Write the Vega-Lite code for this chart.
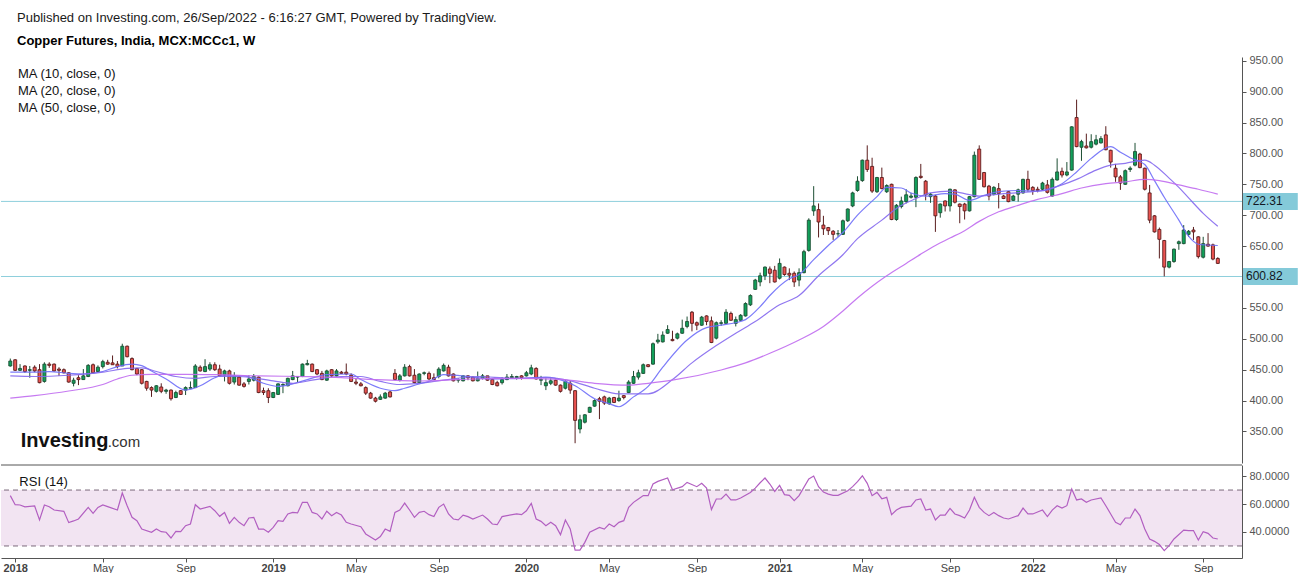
{
  "$schema": "https://vega.github.io/schema/vega-lite/v6.json",
  "background": "white",
  "padding": {"left": 0, "top": 11, "right": 0, "bottom": 0},
  "config": {
    "font": "Liberation Sans",
    "view": {"stroke": null},
    "axis": {"labelFont": "Liberation Sans", "titleFont": "Liberation Sans"},
    "axisY": {"labelOverlap": false},
    "legend": {"labelFont": "Liberation Sans"}
  },
  "title": {
    "text": "Published on Investing.com, 26/Sep/2022 - 6:16:27 GMT, Powered by TradingView.",
    "subtitle": "Copper Futures, India, MCX:MCCc1, W",
    "anchor": "start",
    "frame": "group",
    "dx": 16,
    "font": "Liberation Sans",
    "fontSize": 13,
    "fontWeight": "normal",
    "color": "#1a1a1a",
    "subtitleFont": "Liberation Sans",
    "subtitleFontSize": 13,
    "subtitleFontWeight": "bold",
    "subtitleColor": "#000000",
    "subtitlePadding": 10,
    "offset": 7
  },
  "spacing": 1,
  "resolve": {"scale": {"color": "independent"}, "legend": {"color": "independent"}},
  "datasets": {
    "one": [{}],
    "levels": [{"v": 722.31}, {"v": 600.82}],
    "candles": [
      {"d":"2017-12-25","o":456,"h":468,"l":455,"c":464},
      {"d":"2018-01-01","o":466,"h":467,"l":448,"c":449},
      {"d":"2018-01-08","o":449,"h":459,"l":448,"c":452},
      {"d":"2018-01-15","o":456,"h":457,"l":445,"c":447},
      {"d":"2018-01-22","o":449,"h":456,"l":437,"c":450},
      {"d":"2018-01-29","o":454,"h":457,"l":446,"c":448},
      {"d":"2018-02-05","o":450,"h":459,"l":428,"c":429},
      {"d":"2018-02-12","o":431,"h":462,"l":429,"c":459},
      {"d":"2018-02-19","o":459,"h":462,"l":453,"c":457},
      {"d":"2018-02-26","o":459,"h":460,"l":447,"c":448},
      {"d":"2018-03-05","o":451,"h":454,"l":440,"c":449},
      {"d":"2018-03-12","o":450,"h":452,"l":444,"c":445},
      {"d":"2018-03-19","o":445,"h":446,"l":429,"c":430},
      {"d":"2018-03-26","o":428,"h":437,"l":423,"c":433},
      {"d":"2018-04-02","o":437,"h":441,"l":425,"c":434},
      {"d":"2018-04-09","o":434,"h":451,"l":434,"c":440},
      {"d":"2018-04-16","o":439,"h":459,"l":438,"c":457},
      {"d":"2018-04-23","o":458,"h":460,"l":444,"c":445},
      {"d":"2018-04-30","o":447,"h":457,"l":446,"c":454},
      {"d":"2018-05-07","o":455,"h":466,"l":452,"c":463},
      {"d":"2018-05-14","o":462,"h":466,"l":458,"c":459},
      {"d":"2018-05-21","o":461,"h":473,"l":458,"c":458},
      {"d":"2018-05-28","o":459,"h":464,"l":452,"c":455},
      {"d":"2018-06-04","o":456,"h":492,"l":456,"c":488},
      {"d":"2018-06-11","o":488,"h":489,"l":470,"c":471},
      {"d":"2018-06-18","o":468,"h":470,"l":449,"c":450},
      {"d":"2018-06-25","o":452,"h":453,"l":441,"c":443},
      {"d":"2018-07-02","o":450,"h":451,"l":426,"c":428},
      {"d":"2018-07-09","o":431,"h":432,"l":416,"c":420},
      {"d":"2018-07-16","o":421,"h":423,"l":406,"c":417},
      {"d":"2018-07-23","o":415,"h":425,"l":413,"c":424},
      {"d":"2018-07-30","o":422,"h":428,"l":412,"c":415},
      {"d":"2018-08-06","o":415,"h":419,"l":411,"c":417},
      {"d":"2018-08-13","o":417,"h":418,"l":400,"c":403},
      {"d":"2018-08-20","o":405,"h":416,"l":404,"c":413},
      {"d":"2018-08-27","o":416,"h":417,"l":409,"c":410},
      {"d":"2018-09-03","o":417,"h":423,"l":409,"c":421},
      {"d":"2018-09-10","o":420,"h":431,"l":420,"c":421},
      {"d":"2018-09-17","o":421,"h":459,"l":421,"c":456},
      {"d":"2018-09-24","o":454,"h":457,"l":447,"c":448},
      {"d":"2018-10-01","o":447,"h":467,"l":446,"c":455},
      {"d":"2018-10-08","o":451,"h":462,"l":448,"c":458},
      {"d":"2018-10-15","o":458,"h":462,"l":448,"c":450},
      {"d":"2018-10-22","o":451,"h":458,"l":439,"c":440},
      {"d":"2018-10-29","o":441,"h":450,"l":431,"c":448},
      {"d":"2018-11-05","o":448,"h":450,"l":426,"c":428},
      {"d":"2018-11-12","o":430,"h":446,"l":426,"c":440},
      {"d":"2018-11-19","o":438,"h":441,"l":424,"c":425},
      {"d":"2018-11-26","o":427,"h":430,"l":421,"c":423},
      {"d":"2018-12-03","o":431,"h":441,"l":426,"c":435},
      {"d":"2018-12-10","o":433,"h":443,"l":431,"c":439},
      {"d":"2018-12-17","o":438,"h":439,"l":412,"c":413},
      {"d":"2018-12-24","o":416,"h":421,"l":409,"c":413},
      {"d":"2018-12-31","o":416,"h":420,"l":396,"c":405},
      {"d":"2019-01-07","o":405,"h":414,"l":404,"c":413},
      {"d":"2019-01-14","o":410,"h":428,"l":409,"c":427},
      {"d":"2019-01-21","o":425,"h":428,"l":412,"c":426},
      {"d":"2019-01-28","o":424,"h":437,"l":423,"c":436},
      {"d":"2019-02-04","o":434,"h":448,"l":433,"c":440},
      {"d":"2019-02-11","o":438,"h":439,"l":430,"c":439},
      {"d":"2019-02-18","o":439,"h":460,"l":438,"c":459},
      {"d":"2019-02-25","o":458,"h":466,"l":457,"c":460},
      {"d":"2019-03-04","o":459,"h":460,"l":446,"c":447},
      {"d":"2019-03-11","o":450,"h":451,"l":441,"c":443},
      {"d":"2019-03-18","o":444,"h":448,"l":433,"c":434},
      {"d":"2019-03-25","o":433,"h":450,"l":432,"c":448},
      {"d":"2019-04-01","o":450,"h":451,"l":438,"c":440},
      {"d":"2019-04-08","o":440,"h":451,"l":439,"c":448},
      {"d":"2019-04-15","o":446,"h":448,"l":443,"c":444},
      {"d":"2019-04-22","o":446,"h":460,"l":441,"c":443},
      {"d":"2019-04-29","o":441,"h":444,"l":430,"c":431},
      {"d":"2019-05-06","o":430,"h":436,"l":425,"c":428},
      {"d":"2019-05-13","o":427,"h":430,"l":423,"c":424},
      {"d":"2019-05-20","o":421,"h":423,"l":409,"c":412},
      {"d":"2019-05-27","o":412,"h":414,"l":403,"c":404},
      {"d":"2019-06-03","o":404,"h":406,"l":397,"c":399},
      {"d":"2019-06-10","o":402,"h":410,"l":401,"c":406},
      {"d":"2019-06-17","o":404,"h":414,"l":403,"c":412},
      {"d":"2019-06-24","o":414,"h":416,"l":405,"c":406},
      {"d":"2019-07-01","o":444,"h":451,"l":433,"c":434},
      {"d":"2019-07-08","o":433,"h":443,"l":431,"c":440},
      {"d":"2019-07-15","o":440,"h":459,"l":439,"c":454},
      {"d":"2019-07-22","o":455,"h":458,"l":439,"c":440},
      {"d":"2019-07-29","o":441,"h":451,"l":428,"c":429},
      {"d":"2019-08-05","o":429,"h":444,"l":428,"c":443},
      {"d":"2019-08-12","o":444,"h":447,"l":441,"c":445},
      {"d":"2019-08-19","o":444,"h":447,"l":433,"c":435},
      {"d":"2019-08-26","o":437,"h":444,"l":433,"c":434},
      {"d":"2019-09-02","o":439,"h":454,"l":436,"c":451},
      {"d":"2019-09-09","o":448,"h":460,"l":447,"c":457},
      {"d":"2019-09-16","o":454,"h":458,"l":439,"c":440},
      {"d":"2019-09-23","o":443,"h":444,"l":431,"c":432},
      {"d":"2019-09-30","o":433,"h":436,"l":429,"c":434},
      {"d":"2019-10-07","o":432,"h":441,"l":431,"c":440},
      {"d":"2019-10-14","o":440,"h":441,"l":433,"c":437},
      {"d":"2019-10-21","o":438,"h":439,"l":431,"c":432},
      {"d":"2019-10-28","o":432,"h":447,"l":431,"c":436},
      {"d":"2019-11-04","o":436,"h":443,"l":434,"c":440},
      {"d":"2019-11-11","o":440,"h":440,"l":432,"c":433},
      {"d":"2019-11-18","o":434,"h":436,"l":425,"c":426},
      {"d":"2019-11-25","o":429,"h":432,"l":423,"c":424},
      {"d":"2019-12-02","o":429,"h":438,"l":426,"c":434},
      {"d":"2019-12-09","o":434,"h":443,"l":433,"c":438},
      {"d":"2019-12-16","o":437,"h":443,"l":436,"c":439},
      {"d":"2019-12-23","o":437,"h":440,"l":434,"c":439},
      {"d":"2019-12-30","o":440,"h":441,"l":434,"c":437},
      {"d":"2020-01-06","o":440,"h":448,"l":439,"c":445},
      {"d":"2020-01-13","o":443,"h":458,"l":441,"c":453},
      {"d":"2020-01-20","o":452,"h":454,"l":434,"c":435},
      {"d":"2020-01-27","o":433,"h":440,"l":425,"c":434},
      {"d":"2020-02-03","o":424,"h":436,"l":417,"c":429},
      {"d":"2020-02-10","o":428,"h":436,"l":425,"c":432},
      {"d":"2020-02-17","o":433,"h":434,"l":424,"c":425},
      {"d":"2020-02-24","o":425,"h":426,"l":413,"c":415},
      {"d":"2020-03-02","o":420,"h":433,"l":418,"c":431},
      {"d":"2020-03-09","o":428,"h":432,"l":411,"c":417},
      {"d":"2020-03-16","o":416,"h":417,"l":331,"c":368},
      {"d":"2020-03-23","o":354,"h":377,"l":347,"c":369},
      {"d":"2020-03-30","o":365,"h":378,"l":363,"c":377},
      {"d":"2020-04-06","o":381,"h":390,"l":380,"c":389},
      {"d":"2020-04-13","o":391,"h":402,"l":390,"c":400},
      {"d":"2020-04-20","o":403,"h":406,"l":370,"c":399},
      {"d":"2020-04-27","o":406,"h":408,"l":393,"c":396},
      {"d":"2020-05-04","o":395,"h":406,"l":393,"c":404},
      {"d":"2020-05-11","o":405,"h":406,"l":396,"c":397},
      {"d":"2020-05-18","o":400,"h":416,"l":398,"c":404},
      {"d":"2020-05-25","o":408,"h":409,"l":402,"c":405},
      {"d":"2020-06-01","o":413,"h":433,"l":412,"c":430},
      {"d":"2020-06-08","o":428,"h":448,"l":427,"c":439},
      {"d":"2020-06-15","o":438,"h":450,"l":434,"c":445},
      {"d":"2020-06-22","o":444,"h":460,"l":443,"c":458},
      {"d":"2020-06-29","o":458,"h":459,"l":454,"c":455},
      {"d":"2020-07-06","o":459,"h":494,"l":458,"c":492},
      {"d":"2020-07-13","o":495,"h":508,"l":492,"c":498},
      {"d":"2020-07-20","o":495,"h":512,"l":494,"c":506},
      {"d":"2020-07-27","o":509,"h":522,"l":508,"c":515},
      {"d":"2020-08-03","o":499,"h":513,"l":496,"c":497},
      {"d":"2020-08-10","o":501,"h":510,"l":499,"c":508},
      {"d":"2020-08-17","o":509,"h":531,"l":508,"c":517},
      {"d":"2020-08-24","o":520,"h":536,"l":517,"c":528},
      {"d":"2020-08-31","o":543,"h":545,"l":512,"c":525},
      {"d":"2020-09-07","o":526,"h":528,"l":514,"c":522},
      {"d":"2020-09-14","o":522,"h":537,"l":521,"c":535},
      {"d":"2020-09-21","o":537,"h":538,"l":522,"c":528},
      {"d":"2020-09-28","o":529,"h":536,"l":493,"c":494},
      {"d":"2020-10-05","o":501,"h":528,"l":499,"c":526},
      {"d":"2020-10-12","o":525,"h":530,"l":521,"c":526},
      {"d":"2020-10-19","o":525,"h":548,"l":524,"c":543},
      {"d":"2020-10-26","o":541,"h":544,"l":529,"c":530},
      {"d":"2020-11-02","o":525,"h":536,"l":520,"c":531},
      {"d":"2020-11-09","o":530,"h":540,"l":529,"c":538},
      {"d":"2020-11-16","o":537,"h":559,"l":536,"c":557},
      {"d":"2020-11-23","o":555,"h":572,"l":553,"c":570},
      {"d":"2020-11-30","o":580,"h":597,"l":579,"c":595},
      {"d":"2020-12-07","o":592,"h":607,"l":585,"c":602},
      {"d":"2020-12-14","o":602,"h":617,"l":595,"c":616},
      {"d":"2020-12-21","o":613,"h":617,"l":590,"c":606},
      {"d":"2020-12-28","o":611,"h":618,"l":591,"c":592},
      {"d":"2021-01-04","o":598,"h":630,"l":596,"c":622},
      {"d":"2021-01-11","o":616,"h":617,"l":602,"c":604},
      {"d":"2021-01-18","o":606,"h":614,"l":595,"c":603},
      {"d":"2021-01-25","o":606,"h":609,"l":584,"c":592},
      {"d":"2021-02-01","o":595,"h":614,"l":585,"c":607},
      {"d":"2021-02-08","o":607,"h":644,"l":606,"c":641},
      {"d":"2021-02-15","o":643,"h":695,"l":641,"c":692},
      {"d":"2021-02-22","o":707,"h":747,"l":699,"c":715},
      {"d":"2021-03-01","o":709,"h":719,"l":664,"c":689},
      {"d":"2021-03-08","o":684,"h":699,"l":668,"c":678},
      {"d":"2021-03-15","o":680,"h":681,"l":668,"c":675},
      {"d":"2021-03-22","o":674,"h":676,"l":660,"c":669},
      {"d":"2021-03-29","o":670,"h":676,"l":665,"c":670},
      {"d":"2021-04-05","o":669,"h":693,"l":668,"c":691},
      {"d":"2021-04-12","o":691,"h":711,"l":689,"c":710},
      {"d":"2021-04-19","o":715,"h":738,"l":713,"c":736},
      {"d":"2021-04-26","o":740,"h":763,"l":738,"c":755},
      {"d":"2021-05-03","o":756,"h":790,"l":754,"c":789},
      {"d":"2021-05-10","o":789,"h":813,"l":770,"c":774},
      {"d":"2021-05-17","o":779,"h":793,"l":736,"c":739},
      {"d":"2021-05-24","o":738,"h":762,"l":736,"c":761},
      {"d":"2021-05-31","o":761,"h":777,"l":742,"c":743},
      {"d":"2021-06-07","o":738,"h":750,"l":736,"c":748},
      {"d":"2021-06-14","o":750,"h":751,"l":692,"c":693},
      {"d":"2021-06-21","o":693,"h":718,"l":691,"c":716},
      {"d":"2021-06-28","o":714,"h":730,"l":711,"c":723},
      {"d":"2021-07-05","o":722,"h":742,"l":719,"c":733},
      {"d":"2021-07-12","o":729,"h":736,"l":727,"c":731},
      {"d":"2021-07-19","o":729,"h":763,"l":713,"c":761},
      {"d":"2021-07-26","o":763,"h":783,"l":759,"c":761},
      {"d":"2021-08-02","o":755,"h":757,"l":724,"c":733},
      {"d":"2021-08-09","o":730,"h":736,"l":720,"c":734},
      {"d":"2021-08-16","o":731,"h":733,"l":673,"c":699},
      {"d":"2021-08-23","o":704,"h":719,"l":696,"c":718},
      {"d":"2021-08-30","o":723,"h":724,"l":706,"c":715},
      {"d":"2021-09-06","o":715,"h":743,"l":706,"c":742},
      {"d":"2021-09-13","o":741,"h":742,"l":719,"c":721},
      {"d":"2021-09-20","o":718,"h":719,"l":687,"c":714},
      {"d":"2021-09-27","o":718,"h":720,"l":693,"c":707},
      {"d":"2021-10-04","o":707,"h":731,"l":706,"c":730},
      {"d":"2021-10-11","o":730,"h":803,"l":729,"c":797},
      {"d":"2021-10-18","o":807,"h":813,"l":757,"c":758},
      {"d":"2021-10-25","o":769,"h":770,"l":745,"c":746},
      {"d":"2021-11-01","o":747,"h":749,"l":724,"c":731},
      {"d":"2021-11-08","o":734,"h":747,"l":732,"c":745},
      {"d":"2021-11-15","o":743,"h":752,"l":711,"c":735},
      {"d":"2021-11-22","o":731,"h":733,"l":726,"c":727},
      {"d":"2021-11-29","o":738,"h":739,"l":721,"c":722},
      {"d":"2021-12-06","o":724,"h":733,"l":723,"c":731},
      {"d":"2021-12-13","o":734,"h":743,"l":722,"c":741},
      {"d":"2021-12-20","o":736,"h":759,"l":735,"c":758},
      {"d":"2021-12-27","o":758,"h":772,"l":738,"c":742},
      {"d":"2022-01-03","o":745,"h":747,"l":733,"c":740},
      {"d":"2022-01-10","o":742,"h":746,"l":737,"c":740},
      {"d":"2022-01-17","o":742,"h":754,"l":740,"c":752},
      {"d":"2022-01-24","o":749,"h":757,"l":735,"c":737},
      {"d":"2022-01-31","o":731,"h":761,"l":730,"c":758},
      {"d":"2022-02-07","o":757,"h":792,"l":756,"c":770},
      {"d":"2022-02-14","o":771,"h":777,"l":761,"c":765},
      {"d":"2022-02-21","o":765,"h":786,"l":763,"c":770},
      {"d":"2022-02-28","o":773,"h":844,"l":772,"c":843},
      {"d":"2022-03-07","o":858,"h":887,"l":810,"c":811},
      {"d":"2022-03-14","o":810,"h":822,"l":788,"c":819},
      {"d":"2022-03-21","o":812,"h":832,"l":808,"c":809},
      {"d":"2022-03-28","o":810,"h":831,"l":808,"c":819},
      {"d":"2022-04-04","o":815,"h":830,"l":813,"c":822},
      {"d":"2022-04-11","o":817,"h":828,"l":816,"c":824},
      {"d":"2022-04-18","o":830,"h":844,"l":805,"c":806},
      {"d":"2022-04-25","o":805,"h":806,"l":777,"c":786},
      {"d":"2022-05-02","o":776,"h":783,"l":754,"c":762},
      {"d":"2022-05-09","o":762,"h":765,"l":741,"c":752},
      {"d":"2022-05-16","o":750,"h":774,"l":749,"c":772},
      {"d":"2022-05-23","o":774,"h":779,"l":770,"c":776},
      {"d":"2022-05-30","o":781,"h":817,"l":779,"c":803},
      {"d":"2022-06-06","o":799,"h":801,"l":776,"c":777},
      {"d":"2022-06-13","o":776,"h":777,"l":740,"c":742},
      {"d":"2022-06-20","o":736,"h":749,"l":687,"c":692},
      {"d":"2022-06-27","o":699,"h":700,"l":672,"c":673},
      {"d":"2022-07-04","o":677,"h":680,"l":630,"c":661},
      {"d":"2022-07-11","o":659,"h":660,"l":601,"c":616},
      {"d":"2022-07-18","o":616,"h":626,"l":614,"c":625},
      {"d":"2022-07-25","o":625,"h":646,"l":623,"c":645},
      {"d":"2022-08-01","o":654,"h":659,"l":644,"c":657},
      {"d":"2022-08-08","o":654,"h":684,"l":653,"c":676},
      {"d":"2022-08-15","o":669,"h":676,"l":665,"c":674},
      {"d":"2022-08-22","o":676,"h":681,"l":660,"c":673},
      {"d":"2022-08-29","o":665,"h":666,"l":630,"c":633},
      {"d":"2022-09-05","o":632,"h":665,"l":630,"c":654},
      {"d":"2022-09-12","o":653,"h":671,"l":649,"c":650},
      {"d":"2022-09-19","o":652,"h":654,"l":627,"c":629},
      {"d":"2022-09-26","o":630,"h":632,"l":621,"c":622}
    ],
    "ma": [
      {"d":"2017-12-25","s":"10","v":446},{"d":"2018-01-29","s":"10","v":446},{"d":"2018-02-19","s":"10","v":447},
      {"d":"2018-03-19","s":"10","v":444},{"d":"2018-04-09","s":"10","v":443},{"d":"2018-05-07","s":"10","v":447},
      {"d":"2018-05-28","s":"10","v":455},{"d":"2018-06-18","s":"10","v":459},{"d":"2018-07-02","s":"10","v":456.5},
      {"d":"2018-07-16","s":"10","v":448},{"d":"2018-08-06","s":"10","v":435},{"d":"2018-09-03","s":"10","v":417},
      {"d":"2018-09-24","s":"10","v":424},{"d":"2018-10-15","s":"10","v":437},{"d":"2018-10-29","s":"10","v":441},
      {"d":"2018-11-26","s":"10","v":440},{"d":"2018-12-24","s":"10","v":428},{"d":"2019-01-14","s":"10","v":423},
      {"d":"2019-02-04","s":"10","v":427},{"d":"2019-02-25","s":"10","v":434},{"d":"2019-03-25","s":"10","v":442},
      {"d":"2019-04-29","s":"10","v":443},{"d":"2019-05-13","s":"10","v":434},{"d":"2019-06-10","s":"10","v":420},
      {"d":"2019-07-01","s":"10","v":416},{"d":"2019-07-15","s":"10","v":420},{"d":"2019-08-05","s":"10","v":427},
      {"d":"2019-08-19","s":"10","v":431},{"d":"2019-09-09","s":"10","v":442},{"d":"2019-10-21","s":"10","v":438},
      {"d":"2019-11-18","s":"10","v":435},{"d":"2019-12-30","s":"10","v":436},{"d":"2020-02-03","s":"10","v":438},
      {"d":"2020-03-02","s":"10","v":431},{"d":"2020-03-16","s":"10","v":424},{"d":"2020-04-13","s":"10","v":403},
      {"d":"2020-05-04","s":"10","v":395},{"d":"2020-05-18","s":"10","v":390},{"d":"2020-06-08","s":"10","v":406},
      {"d":"2020-06-29","s":"10","v":423},{"d":"2020-07-20","s":"10","v":454},{"d":"2020-08-24","s":"10","v":498},
      {"d":"2020-09-21","s":"10","v":518},{"d":"2020-10-12","s":"10","v":522},{"d":"2020-11-02","s":"10","v":526},
      {"d":"2020-11-16","s":"10","v":531},{"d":"2020-12-07","s":"10","v":552},{"d":"2020-12-21","s":"10","v":570},
      {"d":"2021-01-18","s":"10","v":597},{"d":"2021-02-01","s":"10","v":604},{"d":"2021-02-22","s":"10","v":628},
      {"d":"2021-03-15","s":"10","v":651},{"d":"2021-04-05","s":"10","v":672},{"d":"2021-04-26","s":"10","v":700},
      {"d":"2021-05-24","s":"10","v":730},{"d":"2021-06-07","s":"10","v":745},{"d":"2021-06-28","s":"10","v":744},
      {"d":"2021-07-12","s":"10","v":736},{"d":"2021-08-02","s":"10","v":731},{"d":"2021-08-30","s":"10","v":735},
      {"d":"2021-09-13","s":"10","v":734},{"d":"2021-10-04","s":"10","v":724},{"d":"2021-10-25","s":"10","v":732},
      {"d":"2021-11-15","s":"10","v":738},{"d":"2021-12-13","s":"10","v":740},{"d":"2022-01-10","s":"10","v":739},
      {"d":"2022-02-14","s":"10","v":751},{"d":"2022-03-07","s":"10","v":770},{"d":"2022-03-28","s":"10","v":792},
      {"d":"2022-04-25","s":"10","v":811},{"d":"2022-05-09","s":"10","v":802},{"d":"2022-05-23","s":"10","v":793},
      {"d":"2022-06-13","s":"10","v":782},{"d":"2022-06-27","s":"10","v":756},{"d":"2022-07-11","s":"10","v":729},
      {"d":"2022-08-01","s":"10","v":692},{"d":"2022-08-15","s":"10","v":666},{"d":"2022-08-29","s":"10","v":653},
      {"d":"2022-09-26","s":"10","v":651},
      {"d":"2017-12-25","s":"20","v":440},{"d":"2018-01-29","s":"20","v":439},{"d":"2018-03-19","s":"20","v":441},
      {"d":"2018-05-07","s":"20","v":446},{"d":"2018-06-11","s":"20","v":452},{"d":"2018-07-02","s":"20","v":453},
      {"d":"2018-07-23","s":"20","v":447},{"d":"2018-08-20","s":"20","v":439},{"d":"2018-09-17","s":"20","v":436},
      {"d":"2018-10-15","s":"20","v":439},{"d":"2018-11-19","s":"20","v":439},{"d":"2019-01-07","s":"20","v":432},
      {"d":"2019-02-04","s":"20","v":428},{"d":"2019-03-04","s":"20","v":433},{"d":"2019-04-15","s":"20","v":439},
      {"d":"2019-05-13","s":"20","v":439},{"d":"2019-06-10","s":"20","v":431},{"d":"2019-07-08","s":"20","v":426},
      {"d":"2019-08-05","s":"20","v":428},{"d":"2019-09-09","s":"20","v":433},{"d":"2019-10-28","s":"20","v":439},
      {"d":"2019-12-16","s":"20","v":436},{"d":"2020-02-03","s":"20","v":437},{"d":"2020-03-09","s":"20","v":432},
      {"d":"2020-04-13","s":"20","v":420},{"d":"2020-05-18","s":"20","v":411},{"d":"2020-06-29","s":"20","v":411},
      {"d":"2020-08-03","s":"20","v":434},{"d":"2020-08-31","s":"20","v":461},{"d":"2020-10-05","s":"20","v":489},
      {"d":"2020-11-02","s":"20","v":509},{"d":"2020-11-30","s":"20","v":528},{"d":"2021-01-04","s":"20","v":555},
      {"d":"2021-02-01","s":"20","v":570},{"d":"2021-03-01","s":"20","v":602},{"d":"2021-04-05","s":"20","v":636},
      {"d":"2021-04-26","s":"20","v":662},{"d":"2021-05-31","s":"20","v":692},{"d":"2021-06-21","s":"20","v":711},
      {"d":"2021-07-19","s":"20","v":727},{"d":"2021-08-09","s":"20","v":736},{"d":"2021-09-06","s":"20","v":739},
      {"d":"2021-09-27","s":"20","v":735},{"d":"2021-10-18","s":"20","v":731},{"d":"2021-11-22","s":"20","v":735},
      {"d":"2022-01-03","s":"20","v":738},{"d":"2022-01-17","s":"20","v":740},{"d":"2022-02-14","s":"20","v":749},
      {"d":"2022-03-07","s":"20","v":758},{"d":"2022-04-04","s":"20","v":773},{"d":"2022-04-25","s":"20","v":781},
      {"d":"2022-05-16","s":"20","v":784},{"d":"2022-06-13","s":"20","v":789},{"d":"2022-06-27","s":"20","v":781},
      {"d":"2022-07-18","s":"20","v":760},{"d":"2022-08-01","s":"20","v":745},{"d":"2022-08-15","s":"20","v":728},
      {"d":"2022-09-05","s":"20","v":703},{"d":"2022-09-26","s":"20","v":682},
      {"d":"2017-12-25","s":"50","v":404},{"d":"2018-01-29","s":"50","v":408},{"d":"2018-03-19","s":"50","v":415.5},
      {"d":"2018-05-07","s":"50","v":426},{"d":"2018-05-28","s":"50","v":435},{"d":"2018-06-18","s":"50","v":441},
      {"d":"2018-07-16","s":"50","v":442.5},{"d":"2018-09-03","s":"50","v":442.5},{"d":"2018-10-15","s":"50","v":442},
      {"d":"2018-12-17","s":"50","v":440},{"d":"2019-02-25","s":"50","v":438.7},{"d":"2019-04-15","s":"50","v":437},
      {"d":"2019-05-27","s":"50","v":434.4},{"d":"2019-08-05","s":"50","v":431.7},{"d":"2019-10-07","s":"50","v":434.4},
      {"d":"2019-12-16","s":"50","v":436},{"d":"2020-02-24","s":"50","v":434.4},{"d":"2020-04-13","s":"50","v":428},
      {"d":"2020-06-01","s":"50","v":425},{"d":"2020-06-29","s":"50","v":428},{"d":"2020-08-03","s":"50","v":433},
      {"d":"2020-10-12","s":"50","v":449.5},{"d":"2020-11-16","s":"50","v":461},{"d":"2020-12-21","s":"50","v":476.5},
      {"d":"2021-02-01","s":"50","v":498},{"d":"2021-03-08","s":"50","v":520},{"d":"2021-04-05","s":"50","v":545},
      {"d":"2021-04-26","s":"50","v":566},{"d":"2021-05-17","s":"50","v":585},{"d":"2021-06-07","s":"50","v":602},
      {"d":"2021-07-05","s":"50","v":622},{"d":"2021-07-26","s":"50","v":637},{"d":"2021-08-16","s":"50","v":651},
      {"d":"2021-09-06","s":"50","v":663},{"d":"2021-09-27","s":"50","v":675},{"d":"2021-10-18","s":"50","v":690},
      {"d":"2021-11-15","s":"50","v":705.5},{"d":"2021-12-13","s":"50","v":716},{"d":"2022-01-10","s":"50","v":725.5},
      {"d":"2022-01-31","s":"50","v":731},{"d":"2022-02-14","s":"50","v":735},{"d":"2022-03-14","s":"50","v":744},
      {"d":"2022-04-18","s":"50","v":751},{"d":"2022-05-16","s":"50","v":754},{"d":"2022-06-13","s":"50","v":758},
      {"d":"2022-07-04","s":"50","v":756},{"d":"2022-08-01","s":"50","v":749},{"d":"2022-08-29","s":"50","v":742},
      {"d":"2022-09-26","s":"50","v":734}
    ],
    "rsi": [
      {"d":"2017-12-25","v":66},{"d":"2018-01-01","v":59.5},{"d":"2018-01-08","v":59.3},{"d":"2018-01-15","v":58},
      {"d":"2018-01-29","v":58.6},{"d":"2018-02-05","v":48.6},{"d":"2018-02-12","v":59.3},{"d":"2018-02-19","v":58.1},
      {"d":"2018-02-26","v":55.7},{"d":"2018-03-12","v":54.8},{"d":"2018-03-19","v":46.7},{"d":"2018-03-26","v":47.9},
      {"d":"2018-04-02","v":49.3},{"d":"2018-04-16","v":57.6},{"d":"2018-04-23","v":53.3},{"d":"2018-04-30","v":57.6},
      {"d":"2018-05-07","v":59.3},{"d":"2018-05-14","v":58.1},{"d":"2018-05-28","v":55.7},{"d":"2018-06-04","v":67.9},
      {"d":"2018-06-11","v":58.8},{"d":"2018-06-18","v":50.5},{"d":"2018-06-25","v":48.1},{"d":"2018-07-02","v":42.1},
      {"d":"2018-07-16","v":39.8},{"d":"2018-07-23","v":42.1},{"d":"2018-07-30","v":40.2},{"d":"2018-08-06","v":39.8},
      {"d":"2018-08-13","v":35.7},{"d":"2018-08-20","v":40.5},{"d":"2018-08-27","v":40.2},{"d":"2018-09-03","v":44.5},
      {"d":"2018-09-10","v":45.7},{"d":"2018-09-17","v":59.5},{"d":"2018-09-24","v":56.4},{"d":"2018-10-08","v":58.3},
      {"d":"2018-10-15","v":55.2},{"d":"2018-10-22","v":51.2},{"d":"2018-10-29","v":54},{"d":"2018-11-05","v":46.2},
      {"d":"2018-11-12","v":50.5},{"d":"2018-11-19","v":46.9},{"d":"2018-11-26","v":44.5},{"d":"2018-12-03","v":50},
      {"d":"2018-12-10","v":50.5},{"d":"2018-12-17","v":42.1},{"d":"2018-12-24","v":42.1},{"d":"2018-12-31","v":39.8},
      {"d":"2019-01-07","v":43.3},{"d":"2019-01-14","v":48.1},{"d":"2019-01-21","v":47.6},{"d":"2019-01-28","v":52.9},
      {"d":"2019-02-04","v":54},{"d":"2019-02-11","v":53.6},{"d":"2019-02-18","v":61.2},{"d":"2019-02-25","v":61.2},
      {"d":"2019-03-04","v":54},{"d":"2019-03-11","v":52.9},{"d":"2019-03-18","v":49.3},{"d":"2019-03-25","v":54.8},
      {"d":"2019-04-01","v":51.7},{"d":"2019-04-08","v":54},{"d":"2019-04-15","v":52.1},{"d":"2019-04-22","v":46.9},
      {"d":"2019-04-29","v":45.7},{"d":"2019-05-13","v":43.8},{"d":"2019-05-20","v":38.6},{"d":"2019-06-03","v":34.3},
      {"d":"2019-06-10","v":36.7},{"d":"2019-06-17","v":42.1},{"d":"2019-06-24","v":40.5},{"d":"2019-07-01","v":54},
      {"d":"2019-07-08","v":55.7},{"d":"2019-07-15","v":60.7},{"d":"2019-07-22","v":55.7},{"d":"2019-07-29","v":50.5},
      {"d":"2019-08-05","v":54},{"d":"2019-08-12","v":54.8},{"d":"2019-08-19","v":52.4},{"d":"2019-08-26","v":51},
      {"d":"2019-09-02","v":57.6},{"d":"2019-09-09","v":60},{"d":"2019-09-16","v":52.9},{"d":"2019-09-23","v":49.3},
      {"d":"2019-09-30","v":48.6},{"d":"2019-10-07","v":52.1},{"d":"2019-10-14","v":51},{"d":"2019-10-21","v":49.3},
      {"d":"2019-11-04","v":52.1},{"d":"2019-11-11","v":49.3},{"d":"2019-11-18","v":45.7},{"d":"2019-11-25","v":45.2},
      {"d":"2019-12-02","v":51},{"d":"2019-12-09","v":51.7},{"d":"2019-12-23","v":52.9},{"d":"2019-12-30","v":52.4},
      {"d":"2020-01-06","v":55.2},{"d":"2020-01-13","v":60.5},{"d":"2020-01-20","v":49.3},{"d":"2020-01-27","v":47.6},
      {"d":"2020-02-03","v":44.5},{"d":"2020-02-10","v":46.9},{"d":"2020-02-17","v":44.5},{"d":"2020-02-24","v":38.1},
      {"d":"2020-03-02","v":48.6},{"d":"2020-03-09","v":42.1},{"d":"2020-03-16","v":27.1},{"d":"2020-03-23","v":27.1},
      {"d":"2020-03-30","v":32.6},{"d":"2020-04-06","v":39.8},{"d":"2020-04-20","v":43.3},{"d":"2020-04-27","v":42.1},
      {"d":"2020-05-04","v":45.7},{"d":"2020-05-11","v":43.8},{"d":"2020-05-18","v":46.9},{"d":"2020-05-25","v":48.1},
      {"d":"2020-06-01","v":57.6},{"d":"2020-06-08","v":61.2},{"d":"2020-06-15","v":63.6},{"d":"2020-06-22","v":66},
      {"d":"2020-06-29","v":66},{"d":"2020-07-06","v":74.3},{"d":"2020-07-13","v":76.2},{"d":"2020-07-27","v":78.6},
      {"d":"2020-08-03","v":70.2},{"d":"2020-08-17","v":72.4},{"d":"2020-08-24","v":75.5},{"d":"2020-09-07","v":72.4},
      {"d":"2020-09-14","v":74.8},{"d":"2020-09-21","v":71.4},{"d":"2020-09-28","v":56},{"d":"2020-10-05","v":63.6},
      {"d":"2020-10-12","v":63.6},{"d":"2020-10-19","v":67.1},{"d":"2020-10-26","v":62.9},{"d":"2020-11-02","v":62.9},
      {"d":"2020-11-09","v":64.3},{"d":"2020-11-23","v":68.3},{"d":"2020-11-30","v":71.4},{"d":"2020-12-07","v":75.2},
      {"d":"2020-12-14","v":78.6},{"d":"2020-12-21","v":74.3},{"d":"2020-12-28","v":69},{"d":"2021-01-04","v":73.3},
      {"d":"2021-01-11","v":66.7},{"d":"2021-01-18","v":66.2},{"d":"2021-01-25","v":62.4},{"d":"2021-02-01","v":66},
      {"d":"2021-02-15","v":77.9},{"d":"2021-02-22","v":80},{"d":"2021-03-01","v":72.4},{"d":"2021-03-08","v":68.6},
      {"d":"2021-03-15","v":67.1},{"d":"2021-03-22","v":66.2},{"d":"2021-03-29","v":66.2},{"d":"2021-04-12","v":69.5},
      {"d":"2021-04-19","v":72.4},{"d":"2021-04-26","v":76},{"d":"2021-05-03","v":80.2},{"d":"2021-05-10","v":74.8},
      {"d":"2021-05-17","v":66},{"d":"2021-05-24","v":68.3},{"d":"2021-05-31","v":63.8},{"d":"2021-06-07","v":64.8},
      {"d":"2021-06-14","v":52.4},{"d":"2021-06-21","v":55.7},{"d":"2021-06-28","v":57.6},{"d":"2021-07-12","v":58.5},
      {"d":"2021-07-19","v":62.9},{"d":"2021-07-26","v":63.6},{"d":"2021-08-02","v":55.7},{"d":"2021-08-09","v":56.4},
      {"d":"2021-08-16","v":48.6},{"d":"2021-08-23","v":52.1},{"d":"2021-08-30","v":52.1},{"d":"2021-09-06","v":56.9},
      {"d":"2021-09-13","v":52.9},{"d":"2021-09-20","v":51.7},{"d":"2021-09-27","v":50},{"d":"2021-10-04","v":55.7},
      {"d":"2021-10-11","v":64.8},{"d":"2021-10-18","v":57.6},{"d":"2021-10-25","v":54},{"d":"2021-11-01","v":51.7},
      {"d":"2021-11-08","v":54},{"d":"2021-11-15","v":51.7},{"d":"2021-11-22","v":50},{"d":"2021-11-29","v":49.3},
      {"d":"2021-12-13","v":51.7},{"d":"2021-12-20","v":57.1},{"d":"2021-12-27","v":52.9},{"d":"2022-01-03","v":52.9},
      {"d":"2022-01-17","v":55.7},{"d":"2022-01-24","v":51},{"d":"2022-01-31","v":55.7},{"d":"2022-02-07","v":58.8},
      {"d":"2022-02-14","v":57.1},{"d":"2022-02-21","v":58.8},{"d":"2022-02-28","v":70.7},{"d":"2022-03-07","v":62.9},
      {"d":"2022-03-14","v":63.6},{"d":"2022-03-21","v":61.2},{"d":"2022-03-28","v":62.9},{"d":"2022-04-11","v":64.3},
      {"d":"2022-04-18","v":58.8},{"d":"2022-04-25","v":52.9},{"d":"2022-05-02","v":46.9},{"d":"2022-05-09","v":45.2},
      {"d":"2022-05-16","v":50},{"d":"2022-05-23","v":50},{"d":"2022-05-30","v":56.4},{"d":"2022-06-06","v":51.7},
      {"d":"2022-06-13","v":42.1},{"d":"2022-06-20","v":35},{"d":"2022-06-27","v":33.3},{"d":"2022-07-04","v":31},
      {"d":"2022-07-11","v":26.7},{"d":"2022-07-18","v":30.2},{"d":"2022-07-25","v":35},{"d":"2022-08-08","v":41.4},
      {"d":"2022-08-15","v":41},{"d":"2022-08-22","v":41},{"d":"2022-08-29","v":34.3},{"d":"2022-09-05","v":40.2},
      {"d":"2022-09-12","v":39},{"d":"2022-09-19","v":35.7},{"d":"2022-09-26","v":35}
    ]
  },
  "vconcat": [
    {
      "width": 1241,
      "height": 406,
      "layer": [
        {
          "data": {"name": "levels"},
          "mark": {"type": "rule", "color": "#8ecfdc", "strokeWidth": 1},
          "encoding": {
            "y": {
              "field": "v",
              "type": "quantitative",
              "scale": {"domain": [299, 956], "nice": false, "zero": false, "padding": 0},
              "axis": {
                "orient": "right",
                "values": [350, 400, 450, 500, 550, 650, 700, 750, 800, 850, 900, 950],
                "tickCount": 20,
                "format": ".2f",
                "title": null,
                "grid": false,
                "labelOverlap": false,
                "labelColor": "#555555",
                "labelFontSize": 11,
                "domainColor": "#555555",
                "tickColor": "#555555",
                "tickSize": 4,
                "labelPadding": 3
              }
            }
          }
        },
        {
          "data": {"name": "candles"},
          "mark": {"type": "rule", "strokeWidth": 1},
          "encoding": {
            "x": {
              "field": "d",
              "type": "temporal",
              "scale": {"type": "utc", "domain": [1513004400000, 1667156400000], "padding": 0},
              "axis": null
            },
            "y": {
              "field": "l",
              "type": "quantitative",
              "axis": {
                "orient": "right",
                "values": [350, 400, 450, 500, 550, 650, 700, 750, 800, 850, 900, 950],
                "tickCount": 20,
                "format": ".2f",
                "title": null,
                "grid": false,
                "labelOverlap": false
              }
            },
            "y2": {"field": "h"},
            "color": {"condition": {"test": "datum.c >= datum.o", "value": "#1d4f34"}, "value": "#5a1d1d"}
          }
        },
        {
          "data": {"name": "candles"},
          "mark": {"type": "bar", "width": 3, "strokeWidth": 0.9},
          "encoding": {
            "x": {"field": "d", "type": "temporal"},
            "y": {"field": "o", "type": "quantitative"},
            "y2": {"field": "c"},
            "fill": {"condition": {"test": "datum.c >= datum.o", "value": "#11a05a"}, "value": "#ec5350"},
            "stroke": {"condition": {"test": "datum.c >= datum.o", "value": "#1d4f34"}, "value": "#5a1d1d"}
          }
        },
        {
          "data": {"name": "ma"},
          "mark": {"type": "line", "strokeWidth": 1.2, "interpolate": "monotone", "opacity": 0.9},
          "encoding": {
            "x": {"field": "d", "type": "temporal"},
            "y": {"field": "v", "type": "quantitative"},
            "color": {
              "field": "s",
              "type": "nominal",
              "scale": {"domain": ["10", "20", "50"], "range": ["#6e6ef8", "#8468ee", "#c06cf0"]},
              "legend": {
                "title": null,
                "orient": "none",
                "legendX": 0,
                "legendY": 10,
                "symbolSize": 0,
                "symbolStrokeWidth": 0,
                "symbolOpacity": 0,
                "labelFontSize": 13,
                "labelColor": "#131313",
                "labelExpr": "'MA (' + datum.label + ', close, 0)'",
                "rowPadding": 3,
                "labelOffset": 4,
                "padding": 0,
                "labelLimit": 300
              }
            }
          }
        },
        {
          "data": {"name": "levels"},
          "mark": {"type": "bar", "height": 17, "color": "#84cad9"},
          "encoding": {
            "x": {"datum": {"year": 2022, "month": 11, "date": 1, "hours": 5, "utc": true}, "type": "temporal"},
            "x2": {"datum": {"year": 2023, "month": 1, "date": 19, "utc": true}},
            "y": {"field": "v", "type": "quantitative"}
          }
        },
        {
          "data": {"name": "levels"},
          "mark": {"type": "text", "align": "left", "baseline": "middle", "fontSize": 12, "color": "#131722"},
          "encoding": {
            "x": {"datum": {"year": 2022, "month": 11, "date": 5, "hours": 12, "utc": true}, "type": "temporal"},
            "y": {"field": "v", "type": "quantitative"},
            "text": {"field": "v", "type": "quantitative", "format": ".2f"}
          }
        },
        {
          "data": {"name": "one"},
          "mark": {"type": "text", "align": "left", "baseline": "alphabetic", "fontSize": 20, "fontWeight": "bold", "color": "#111111"},
          "encoding": {
            "x": {"datum": {"year": 2018, "month": 1, "date": 9, "utc": true}, "type": "temporal"},
            "y": {"datum": 325},
            "text": {"value": "Investing"}
          }
        },
        {
          "data": {"name": "one"},
          "mark": {"type": "text", "align": "left", "baseline": "alphabetic", "fontSize": 15, "color": "#333333"},
          "encoding": {
            "x": {"datum": {"year": 2018, "month": 5, "date": 14, "utc": true}, "type": "temporal"},
            "y": {"datum": 325},
            "text": {"value": ".com"}
          }
        }
      ]
    },
    {
      "width": 1241,
      "height": 93,
      "layer": [
        {
          "data": {"name": "one"},
          "mark": {"type": "rect", "color": "#f2e4f2"},
          "encoding": {
            "y": {
              "datum": 30,
              "type": "quantitative",
              "scale": {"domain": [21.4, 87.9], "nice": false, "zero": false, "padding": 0},
              "axis": {
                "orient": "right",
                "values": [40, 60, 80],
                "tickCount": 5,
                "format": ".4f",
                "title": null,
                "grid": false,
                "labelOverlap": false,
                "labelColor": "#555555",
                "labelFontSize": 11,
                "domainColor": "#555555",
                "tickColor": "#555555",
                "tickSize": 4,
                "labelPadding": 3
              }
            },
            "y2": {"datum": 70}
          }
        },
        {
          "data": {"name": "one"},
          "mark": {"type": "rule", "color": "#7b6a7b", "strokeDash": [5, 4], "strokeWidth": 1},
          "encoding": {"y": {"datum": 70}}
        },
        {
          "data": {"name": "one"},
          "mark": {"type": "rule", "color": "#7b6a7b", "strokeDash": [5, 4], "strokeWidth": 1},
          "encoding": {"y": {"datum": 30}}
        },
        {
          "data": {"name": "one"},
          "mark": {"type": "rule", "color": "#555555", "strokeWidth": 1},
          "encoding": {"y": {"datum": 87.9}}
        },
        {
          "data": {"name": "rsi"},
          "mark": {"type": "line", "color": "#b25fc1", "strokeWidth": 1.2},
          "encoding": {
            "x": {
              "field": "d",
              "type": "temporal",
              "scale": {"type": "utc", "domain": [1513004400000, 1667156400000], "padding": 0},
              "axis": {
                "title": null,
                "grid": false,
                "values": [
                  {"year": 2018, "month": 1, "date": 1, "utc": true},
                  {"year": 2018, "month": 5, "date": 7, "utc": true},
                  {"year": 2018, "month": 9, "date": 3, "utc": true},
                  {"year": 2019, "month": 1, "date": 7, "utc": true},
                  {"year": 2019, "month": 5, "date": 6, "utc": true},
                  {"year": 2019, "month": 9, "date": 2, "utc": true},
                  {"year": 2020, "month": 1, "date": 6, "utc": true},
                  {"year": 2020, "month": 5, "date": 4, "utc": true},
                  {"year": 2020, "month": 9, "date": 7, "utc": true},
                  {"year": 2021, "month": 1, "date": 4, "utc": true},
                  {"year": 2021, "month": 5, "date": 3, "utc": true},
                  {"year": 2021, "month": 9, "date": 6, "utc": true},
                  {"year": 2022, "month": 1, "date": 3, "utc": true},
                  {"year": 2022, "month": 5, "date": 2, "utc": true},
                  {"year": 2022, "month": 9, "date": 5, "utc": true}
                ],
                "tickCount": 40,
                "labelExpr": "utcmonth(datum.value) == 0 ? utcFormat(datum.value, '%Y') : utcFormat(datum.value, '%b')",
                "labelFontWeight": {"condition": {"test": "utcmonth(datum.value) == 0", "value": "bold"}, "value": "normal"},
                "labelColor": "#444444",
                "labelFontSize": 11,
                "domainColor": "#555555",
                "tickColor": "#555555",
                "tickSize": 4,
                "labelPadding": 0
              }
            },
            "y": {"field": "v", "type": "quantitative"}
          }
        },
        {
          "data": {"name": "one"},
          "mark": {"type": "text", "align": "left", "baseline": "middle", "fontSize": 13, "color": "#131313"},
          "encoding": {
            "x": {"datum": {"year": 2018, "month": 1, "date": 7, "utc": true}, "type": "temporal"},
            "y": {"datum": 75.7},
            "text": {"value": "RSI (14)"}
          }
        }
      ]
    }
  ]
}
